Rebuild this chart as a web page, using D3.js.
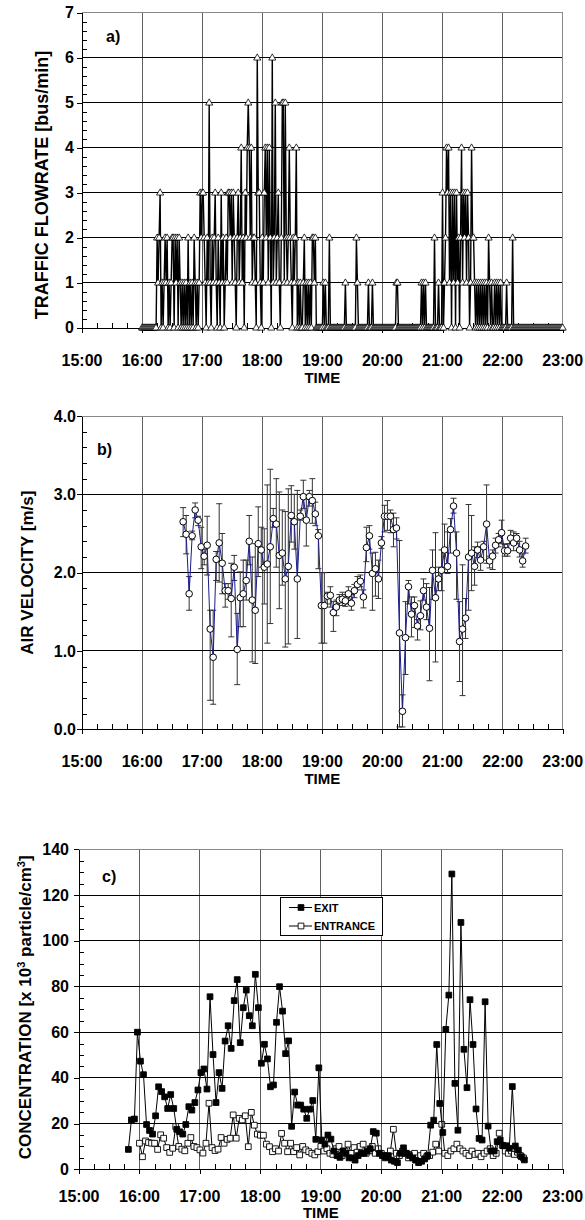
<!DOCTYPE html>
<html>
<head>
<meta charset="utf-8">
<script src="https://cdn.jsdelivr.net/npm/d3@7"></script>
<style>
body { margin: 0; background: #fff; }
svg text { font-family: "Liberation Sans", Arial, sans-serif; font-weight: 700; fill: #000; }
</style>
</head>
<body>
<svg id="chart" width="585" height="1220" font-family="Liberation Sans, Arial, sans-serif" font-weight="bold"></svg>
<script>
// ---- data ----
const hourLabels = ["15:00","16:00","17:00","18:00","19:00","20:00","21:00","22:00","23:00"];

// a) traffic flowrate, one value per minute, one array per hour
const traffic16 = [0,0,0,0,0,0,0,0,0,0,0,0,0,0,0, 2,1,2,3,0,1,0,1,2,1, 2,0,1,0,1,2,2,0,2,1, 2,0,2,1,0,1,0,1,0,1, 0,2,0,1,0,1,0,2,1,0, 1,0,1,3,2];
const traffic17 = [3,3,2,1,0,2,1,5,1,0, 2,1,2,3,1,0,2,1,0,3, 1,2,0,1,2,1,3,3,2,3, 1,3,2,1,0,2,3,1,2,4, 1,2,0,3,2,4,5,4,2,4, 1,2,2,1,0,6,3,3,1,0];
const traffic18 = [2,1,3,4,2,4,1,4,2,0, 6,1,2,5,1,2,3,1,0,2, 5,5,1,5,2,1,2,4,2,1, 0,2,1,2,4,0,1,0,1,0, 0,1,2,0,1,0,1,0,1,0, 2,2,1,2,0,0,0,0,0,0];
const traffic19 = [0,1,0,1,0,0,0,2,0,0, 0,0,0,0,0,0,0,0,0,0, 0,0,0,1,0,0,0,0,0,0, 0,0,0,0,2,1,0,0,0,0, 0,0,0,0,0,0,1,0,0,0, 1,0,0,0,0,0,0,0,0,0];
const traffic20 = [0,0,0,0,0,0,0,0,0,0, 0,0,0,0,1,1,0,0,0,0, 0,0,0,0,0,0,0,0,0,0, 0,0,0,0,0,0,0,0,0,1, 0,1,0,1,0,0,0,0,0,0, 0,0,2,0,0,0,1,0,0,0];
const traffic21 = [3,0,1,2,4,3,4,1,3,0, 3,1,3,0,3,1,2,0,2,4, 1,3,2,3,1,3,2,0,1,4, 2,2,1,0,1,0,1,0,1,0, 1,0,1,0,1,0,2,1,0,1, 0,0,1,0,1,0,1,0,1,0];
const traffic22 = [0,0,0,0,1,0,0,0,0,0, 2,0,0,0,0,0,0,0,0,0, 0,0,0,0,0,0,0,0,0,0, 0,0,0,0,0,0,0,0,0,0, 0,0,0,0,0,0,0,0,0,0, 0,0,0,0,0,0,0,0,0,0];
const traffic23 = [0];

// b) air velocity, every 3 min from 16:41
const velStart = "16:41", velStep = 3;
const velMean = [2.65,2.49,1.73,2.47,2.80,2.67,2.33,2.21,2.35,1.28,
  0.92,2.17,2.38,2.12,1.77,1.77,1.67,2.07,1.02,1.68,
  1.73,1.90,2.40,1.65,1.52,2.37,2.29,2.07,2.11,2.33,
  2.69,2.62,2.22,2.25,1.92,2.08,2.73,2.65,1.92,2.72,
  2.97,2.67,2.97,2.92,2.75,2.47,1.58,1.58,1.70,1.71,
  1.49,1.56,1.65,1.66,1.64,1.73,1.61,1.77,1.85,1.89,
  1.69,2.32,2.47,1.99,2.05,1.92,2.38,2.72,2.72,2.72,
  2.55,2.57,1.23,0.23,1.17,1.82,1.47,1.58,1.32,1.45,
  1.77,1.56,1.29,2.03,1.68,1.92,2.03,2.29,2.08,2.55,
  2.85,2.25,1.12,1.28,1.42,2.20,2.25,2.08,2.29,2.16,
  2.33,2.62,2.15,2.21,2.35,2.42,2.51,2.28,2.28,2.44,
  2.38,2.44,2.29,2.15,2.34];
const velLow = [2.46,2.24,1.52,2.42,2.70,2.60,2.05,2.10,1.97,0.37,
  0.32,1.90,1.88,1.73,1.56,1.66,1.18,1.90,0.57,1.31,
  1.31,1.65,2.10,0.86,0.84,1.95,2.07,1.60,1.10,1.35,
  2.58,2.07,1.54,1.84,1.05,1.09,2.39,2.30,1.16,2.67,
  2.82,2.34,2.85,2.63,2.60,2.05,1.10,1.10,1.60,1.56,
  1.25,1.45,1.58,1.58,1.57,1.60,1.52,1.68,1.78,1.82,
  1.55,2.14,2.30,1.52,1.70,1.67,2.31,2.52,2.54,2.51,
  2.33,2.43,0.03,0.03,0.70,1.60,1.18,1.30,1.14,1.27,
  1.65,1.40,0.62,1.66,0.86,1.77,1.77,2.07,1.99,2.25,
  2.76,1.66,0.61,0.43,1.16,1.52,1.77,1.84,2.19,2.03,
  2.16,2.12,2.06,2.04,2.25,2.33,2.37,2.21,2.21,2.37,
  2.28,2.37,2.20,2.07,2.25];
const velHigh = [2.83,2.73,1.95,2.53,2.89,2.72,2.58,2.30,2.72,1.52,
  1.52,2.27,2.88,2.50,1.86,1.86,2.12,2.22,1.48,2.01,
  2.16,2.16,2.73,2.20,2.37,2.84,2.58,2.56,3.12,3.32,
  2.82,3.20,3.03,2.80,2.78,3.07,3.11,3.00,3.05,2.80,
  3.18,2.95,3.05,3.20,2.90,2.55,2.00,2.00,1.75,1.82,
  1.63,1.65,1.72,1.75,1.72,1.82,1.72,1.85,1.95,1.97,
  1.78,2.58,2.60,2.25,2.26,2.16,2.46,2.86,2.92,2.80,
  2.76,2.70,2.41,0.44,1.63,1.90,1.69,1.69,1.40,1.64,
  1.92,1.86,1.81,2.29,2.51,2.07,2.29,2.62,2.52,2.69,
  2.95,2.52,1.63,2.10,1.67,2.87,2.73,2.33,2.39,2.33,
  2.40,3.12,2.21,2.29,2.44,2.50,2.67,2.36,2.37,2.54,
  2.52,2.50,2.40,2.24,2.44];

// c) particle concentration, every 3 min
const exitStart = "15:49", exitStep = 3;
const exitConc = [8.7,21.6,22.0,60,47.3,41.4,19.6,17,15.4,23.4,
  36.1,34,31.7,26.6,32.7,26.6,17.5,16.4,15.4,19.6,
  27.4,25.9,29.2,34.7,42.3,43.9,35.1,75.5,50.2,29.2,
  42.3,35.4,56.1,62.8,52.9,73.8,83,55.4,70.7,78.4,
  67.2,62.8,85.3,70.7,46.4,54.7,48.3,36.1,36.9,64.3,
  79.9,69.2,50.6,56.2,18.8,33.8,28.1,28.1,26.3,22.3,
  26.3,30.1,13.1,44.4,12.8,11,15,13.2,8,6,
  5.2,8,7,5,5,4,6,7,7,8,
  9,16.5,15.8,7,6,5,6,4,3.5,2.9,
  7,9.4,7,6,5,4,2.9,3.5,4.5,6,
  19.3,21.5,54.6,28.8,16.1,61.2,76.2,129.2,37.6,17.1,
  108,52.5,35.7,74.2,54.6,26.4,13.5,12.8,73.3,18.9,
  8,8,12.1,12.8,10.3,10.3,9.2,36.2,10.2,8.4,
  5.5,4.1];
const entranceStart = "16:00", entranceStep = 3;
const entranceConc = [11.4,5.5,12.4,11.7,11.4,11.4,8.7,15.1,13.6,9.5,
  7.4,9.2,18.7,10,8.8,8.1,11.4,13.9,10,9.5,
  8.5,7.1,11.4,28.9,9.5,8.2,8.8,13.9,11.4,13.1,
  13.6,23.8,13.6,22.3,21.6,23.4,9.9,24.9,19.3,15.4,
  14.9,14.9,11,9.9,7.7,9,8,15.7,11.4,7.7,
  11.4,7.7,9.5,6.3,10,8.5,7.7,7,6.3,7.7,
  10,8,9,7,6.5,9,10,6,8,11,
  7,9.5,7.5,10,11,7,8,10,7,9,
  7,6,5.5,8,17.5,7,6,8,7,5,
  6.5,7,5,6,7,5.5,6,7.5,11,8,
  19.7,7,6,8,9,11,9,8,7,6,
  8,6.5,7,5.5,7,8,9,6,7,15.8,
  10.5,8,7,8,6.5,7.5,6,5];

// ---- helpers ----
function toMin(s) { const p = s.split(":").map(Number); return (p[0] - 15) * 60 + p[1]; }

const svg = d3.select("#chart");
const RIGHT = 562.7;

function panel(cfg) {
  const x = d3.scaleLinear().domain([0, 480]).range([cfg.left, RIGHT]);
  const y = d3.scaleLinear().domain([0, cfg.ymax]).range([cfg.bottom, cfg.top]);
  const g = svg.append("g");
  const xMajor = hourLabels.map(toMin);
  const xMinor = d3.range(0, 481, 15).filter(m => m % 60 !== 0);
  const yMajor = d3.range(0, cfg.ymax + 1e-9, cfg.major);
  const yMinor = d3.range(0, cfg.ymax + 1e-9, cfg.minor).filter(v => Math.abs(v / cfg.major - Math.round(v / cfg.major)) > 1e-6);

  g.selectAll(".vg").data(xMajor.slice(1, -1)).join("line")
    .attr("x1", d => x(d)).attr("x2", d => x(d))
    .attr("y1", cfg.top).attr("y2", cfg.bottom)
    .attr("stroke", "#606060").attr("shape-rendering", "crispEdges");
  g.selectAll(".hg").data(yMajor.slice(1, -1)).join("line")
    .attr("x1", cfg.left).attr("x2", RIGHT)
    .attr("y1", d => y(d)).attr("y2", d => y(d))
    .attr("stroke", "#000").attr("shape-rendering", "crispEdges");
  g.append("path")
    .attr("d", `M${cfg.left},${cfg.top}H${RIGHT}V${cfg.bottom}`)
    .attr("fill", "none").attr("stroke", "#888").attr("shape-rendering", "crispEdges");

  const axes = g.append("g").attr("shape-rendering", "crispEdges");
  axes.append("g").attr("transform", `translate(0,${cfg.bottom})`)
    .call(d3.axisBottom(x).tickValues(xMinor).tickSize(-5).tickSizeOuter(0).tickFormat(""));
  axes.append("g").attr("transform", `translate(0,${cfg.bottom})`)
    .call(d3.axisBottom(x).tickValues(xMajor).tickSize(5).tickSizeOuter(0).tickFormat(""));
  axes.append("g").attr("transform", `translate(${cfg.left},0)`)
    .call(d3.axisLeft(y).tickValues(yMinor).tickSize(-5).tickSizeOuter(0).tickFormat(""));
  const ya = axes.append("g").attr("transform", `translate(${cfg.left},0)`)
    .call(d3.axisLeft(y).tickValues(yMajor).tickSize(5).tickSizeOuter(0)
      .tickPadding(cfg.ypad).tickFormat(cfg.fmt));
  axes.selectAll("g").attr("font-family", null).attr("font-size", null);
  axes.selectAll("path.domain").attr("stroke", "#000");
  axes.selectAll(".tick line").attr("stroke", "#000");
  ya.selectAll("text").attr("font-size", 16).attr("font-weight", "bold").attr("fill", "#000");

  g.selectAll(".xl").data(hourLabels).join("text")
    .attr("x", d => x(toMin(d))).attr("y", cfg.xLabelY)
    .attr("text-anchor", "middle").attr("font-size", 16).attr("font-weight", "bold").text(d => d);
  g.append("text").attr("x", x(toMin("19:00"))).attr("y", cfg.timeY)
    .attr("text-anchor", "middle").attr("font-size", 15).attr("font-weight", "bold").text("TIME");
  g.append("text").attr("x", cfg.tagX).attr("y", cfg.tagY)
    .attr("font-size", 16).attr("font-weight", "bold").text(cfg.tag);

  const t = g.append("text")
    .attr("transform", `translate(${cfg.titleX},${(cfg.top + cfg.bottom) / 2 + cfg.titleShift}) rotate(-90)`)
    .attr("text-anchor", "middle").attr("dy", "0.35em").attr("font-size", cfg.titleSize).attr("font-weight", "bold");
  cfg.title.forEach(part => {
    const s = t.append("tspan").text(part.t);
    if (part.sup) s.attr("font-size", 11).attr("baseline-shift", "super");
  });
  return { x, y, g };
}

// ---- a) traffic ----
const trafficAll = [traffic16, traffic17, traffic18, traffic19, traffic20, traffic21, traffic22, traffic23]
  .flatMap((arr, h) => arr.map((v, m) => ({ t: (h + 1) * 60 + m, v })));
const pa = panel({
  top: 12.5, bottom: 327.5, left: 82, ymax: 7, major: 1, minor: 0.2, ypad: 3,
  fmt: d3.format("d"), xLabelY: 366, timeY: 383,
  tag: "a)", tagX: 106, tagY: 42,
  title: [{ t: "TRAFFIC FLOWRATE [bus/min]" }], titleX: 42, titleShift: 15, titleSize: 18
});
pa.g.append("path").datum(trafficAll)
  .attr("d", d3.line().x(d => pa.x(d.t)).y(d => pa.y(d.v)))
  .attr("fill", "none").attr("stroke", "#000").attr("stroke-width", 1.4);
pa.g.selectAll(".tri").data(trafficAll).join("path")
  .attr("transform", d => `translate(${pa.x(d.t)},${pa.y(d.v) + 0.5})`)
  .attr("d", d3.symbol(d3.symbolTriangle, 22))
  .attr("fill", "#fff").attr("stroke", "#000").attr("stroke-width", 0.8);

// ---- b) air velocity ----
const velData = velMean.map((v, i) => ({ t: toMin(velStart) + i * velStep, v, lo: velLow[i], hi: velHigh[i] }));
const pb = panel({
  top: 416, bottom: 729.3, left: 82, ymax: 4, major: 1, minor: 0.2, ypad: 1,
  fmt: d3.format(".1f"), xLabelY: 767, timeY: 784,
  tag: "b)", tagX: 97, tagY: 455,
  title: [{ t: "AIR VELOCITY [m/s]" }], titleX: 27, titleShift: 0, titleSize: 17
});
const eb = pb.g.append("g").attr("stroke", "#333").attr("stroke-width", 1);
eb.selectAll(".ev").data(velData).join("line")
  .attr("x1", d => pb.x(d.t)).attr("x2", d => pb.x(d.t))
  .attr("y1", d => pb.y(d.lo)).attr("y2", d => pb.y(d.hi));
eb.selectAll(".ct").data(velData).join("line")
  .attr("x1", d => pb.x(d.t) - 3).attr("x2", d => pb.x(d.t) + 3)
  .attr("y1", d => pb.y(d.hi)).attr("y2", d => pb.y(d.hi));
eb.selectAll(".cb").data(velData).join("line")
  .attr("x1", d => pb.x(d.t) - 3).attr("x2", d => pb.x(d.t) + 3)
  .attr("y1", d => pb.y(d.lo)).attr("y2", d => pb.y(d.lo));
pb.g.append("path").datum(velData)
  .attr("d", d3.line().x(d => pb.x(d.t)).y(d => pb.y(d.v)))
  .attr("fill", "none").attr("stroke", "#1c1c8c").attr("stroke-width", 1);
pb.g.selectAll(".dot").data(velData).join("circle")
  .attr("cx", d => pb.x(d.t)).attr("cy", d => pb.y(d.v)).attr("r", 3.3)
  .attr("fill", "#fff").attr("stroke", "#000").attr("stroke-width", 1);

// ---- c) concentration ----
const exitData = exitConc.map((v, i) => ({ t: toMin(exitStart) + i * exitStep, v }));
const entData = entranceConc.map((v, i) => ({ t: toMin(entranceStart) + i * entranceStep, v }));
const pc = panel({
  top: 849.3, bottom: 1169.3, left: 79, ymax: 140, major: 20, minor: 5, ypad: 5,
  fmt: d3.format("d"), xLabelY: 1202, timeY: 1218,
  tag: "c)", tagX: 102, tagY: 882,
  title: [{ t: "CONCENTRATION [x 10" }, { t: "3", sup: true }, { t: " particle/cm" }, { t: "3", sup: true }, { t: "]" }],
  titleX: 25, titleShift: -2, titleSize: 17
});
const sq = d3.symbol(d3.symbolSquare, 33);
[[entData, "#fff"], [exitData, "#000"]].forEach(([data, fill]) => {
  pc.g.append("path").datum(data)
    .attr("d", d3.line().x(d => pc.x(d.t)).y(d => pc.y(d.v)))
    .attr("fill", "none").attr("stroke", "#000").attr("stroke-width", 1);
  pc.g.append("g").selectAll("path").data(data).join("path")
    .attr("transform", d => `translate(${pc.x(d.t)},${pc.y(d.v)})`)
    .attr("d", sq).attr("fill", fill).attr("stroke", "#000").attr("stroke-width", 0.9);
});

// legend
const lg = pc.g.append("g").attr("transform", "translate(280,897)");
lg.append("rect").attr("x", 0).attr("y", 0).attr("width", 102).attr("height", 38)
  .attr("fill", "#fff").attr("stroke", "#000").attr("shape-rendering", "crispEdges");
[["EXIT", "#000", 10.5], ["ENTRANCE", "#fff", 29]].forEach(([name, fill, yy]) => {
  lg.append("line").attr("x1", 9).attr("x2", 32).attr("y1", yy).attr("y2", yy).attr("stroke", "#000");
  lg.append("path").attr("transform", `translate(21,${yy})`).attr("d", sq)
    .attr("fill", fill).attr("stroke", "#000").attr("stroke-width", 0.9);
  lg.append("text").attr("x", 34).attr("y", yy + 4).attr("font-size", 11).attr("font-weight", "bold").text(name);
});
</script>
</body>
</html>
